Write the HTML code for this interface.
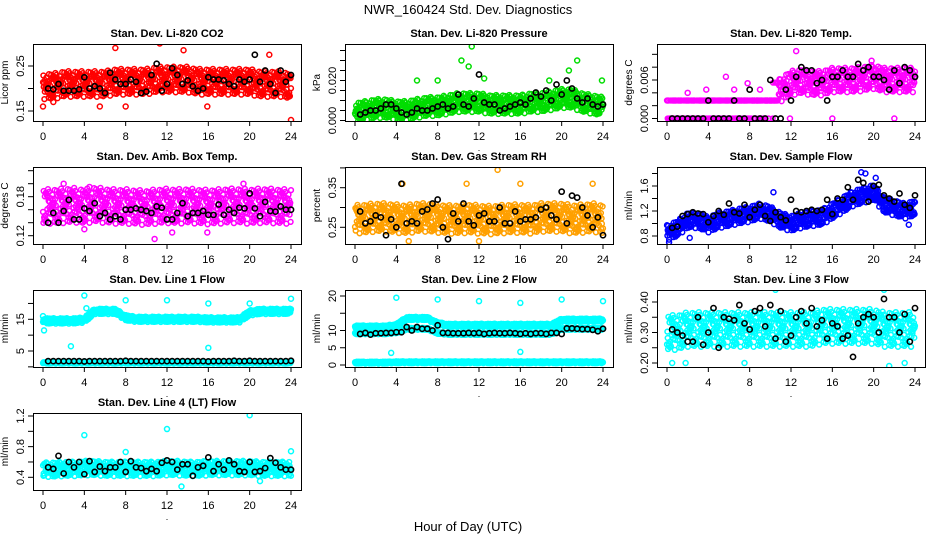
<!DOCTYPE html>
<html><head><meta charset="utf-8"><style>
html,body{margin:0;padding:0;background:#fff}
svg{display:block;font-family:"Liberation Sans",sans-serif}
</style></head><body>
<svg id="c" width="936" height="540" viewBox="0 0 936 540">
<text x="468" y="14" text-anchor="middle" font-size="13">NWR_160424  Std. Dev. Diagnostics</text>
<text x="468" y="531" text-anchor="middle" font-size="13">Hour of Day (UTC)</text>
</svg>
<script>
const hours = [0,4,8,12,16,20,24];
const jitter = [0.3,-0.8,0.9,-0.1,0.5,-0.6,0.1,-0.95,0.7,-0.3,0.0,0.8,-0.5,0.4,-0.2,0.95,-0.7,0.2,-0.4,0.6,-0.9,0.35,-0.05,0.75,-0.65,0.15,-0.35,0.55,-0.85,0.45,-0.15,0.85,-0.45,0.25,-0.75,0.05,0.65];

const co2Center = [0.205,0.205,0.21,0.21,0.21,0.21,0.21,0.215,0.215,0.215,0.215,0.22,0.22,0.22,0.22,0.215,0.215,0.215,0.215,0.215,0.215,0.21,0.21,0.21,0.205];
const co2Black = [0.20,0.198,0.21,0.195,0.195,0.195,0.198,0.225,0.20,0.205,0.20,0.19,0.235,0.22,0.21,0.21,0.22,0.215,0.19,0.193,0.23,0.255,0.195,0.21,0.245,0.23,0.21,0.218,0.205,0.195,0.2,0.225,0.22,0.22,0.218,0.21,0.205,0.22,0.215,0.22,0.275,0.215,0.24,0.21,0.19,0.24,0.215,0.23];
const co2Out = [[0,0.16],[1,0.17],[5.5,0.16],[7,0.29],[8,0.16],[11.3,0.3],[13.6,0.285],[15.9,0.16],[21.9,0.275],[24,0.13]];
const presCenter = [0.004,0.005,0.006,0.006,0.005,0.005,0.006,0.007,0.007,0.008,0.009,0.009,0.009,0.008,0.008,0.008,0.008,0.009,0.009,0.01,0.011,0.011,0.009,0.008,0.007];
const presBlack = [0.003,0.004,0.005,0.005,0.006,0.008,0.008,0.006,0.004,0.003,0.004,0.006,0.005,0.005,0.006,0.007,0.008,0.006,0.007,0.013,0.008,0.007,0.011,0.023,0.009,0.008,0.008,0.005,0.006,0.007,0.008,0.009,0.008,0.011,0.014,0.012,0.015,0.010,0.018,0.013,0.020,0.016,0.011,0.009,0.011,0.008,0.007,0.008];
const presOut = [[11.3,0.037],[10.3,0.03],[11,0.027],[6,0.02],[8,0.02],[12.5,0.021],[18.8,0.02],[21.5,0.03],[20.7,0.025],[23.9,0.02]];
const tempCenter = [0.0012,0.0012,0.0012,0.0013,0.0013,0.0014,0.0015,0.0016,0.0018,0.002,0.0022,0.0045,0.0055,0.0058,0.0055,0.0055,0.006,0.006,0.006,0.0062,0.0065,0.006,0.006,0.006,0.006];
const tempBlack = [0,0,0,0,0,0,0,0.0028,0,0,0,0,0.0028,0,0,0.0045,0,0,0,0.006,0,0,0.0045,0.0028,0.0065,0.008,0.0075,0.0075,0.0055,0.006,0.0028,0.0065,0.0065,0.0075,0.0065,0.0065,0.0085,0.0075,0.008,0.0065,0.0065,0.006,0.0045,0.0075,0.0055,0.008,0.0075,0.0065];
const tempOut = [[12.5,0.0105],[19.8,0.009],[16,0],[22,0],[11.9,0],[5.7,0.0065],[3.8,0.0045],[7.8,0.0055],[2,0.004],[9,0.0045],[6.5,0.0045]];
const ambCenter = [0.165,0.165,0.166,0.167,0.165,0.168,0.166,0.165,0.165,0.164,0.163,0.165,0.166,0.165,0.166,0.165,0.164,0.165,0.166,0.166,0.165,0.166,0.166,0.165,0.165];
const ambBlack = [0.14,0.155,0.14,0.158,0.175,0.145,0.145,0.162,0.158,0.17,0.15,0.155,0.145,0.15,0.145,0.16,0.16,0.162,0.16,0.158,0.155,0.165,0.163,0.145,0.145,0.155,0.17,0.15,0.155,0.155,0.158,0.152,0.152,0.168,0.152,0.16,0.155,0.163,0.162,0.185,0.162,0.15,0.172,0.158,0.157,0.165,0.16,0.16];
const ambOut = [[2,0.2],[4.5,0.195],[10.8,0.115],[19.4,0.2],[12.5,0.125],[15.9,0.125],[4,0.13]];
const rhCenter = [0.27,0.272,0.275,0.275,0.272,0.27,0.275,0.275,0.272,0.27,0.27,0.272,0.27,0.268,0.27,0.272,0.272,0.27,0.275,0.275,0.275,0.27,0.272,0.275,0.27];
const rhBlack = [0.29,0.26,0.265,0.28,0.275,0.23,0.27,0.25,0.36,0.26,0.265,0.26,0.29,0.295,0.31,0.32,0.25,0.22,0.285,0.265,0.31,0.265,0.255,0.28,0.285,0.265,0.265,0.3,0.26,0.26,0.29,0.265,0.27,0.27,0.275,0.295,0.3,0.28,0.27,0.34,0.26,0.33,0.325,0.3,0.28,0.25,0.275,0.23];
const rhOut = [[13.8,0.395],[4.6,0.36],[23,0.36],[5.2,0.215],[12,0.215],[10.8,0.36],[16,0.36]];
const flowCenter = [0.85,0.92,1.05,1.05,0.98,1.05,1.08,1.12,1.15,1.2,1.15,1.05,1.0,1.05,1.08,1.1,1.2,1.3,1.4,1.45,1.5,1.3,1.25,1.2,1.25];
const flowBlack = [0.93,0.95,1.12,1.15,1.18,1.16,1.15,1.02,1.12,1.2,1.14,1.32,1.18,1.16,1.3,1.1,1.22,1.3,1.12,1.04,1.18,1.1,1.05,1.38,1.2,1.18,1.2,1.22,1.2,1.22,1.38,1.15,1.4,1.38,1.58,1.38,1.7,1.65,1.35,1.6,1.62,1.45,1.4,1.35,1.48,1.3,1.25,1.45];
const flowOut = [[0.2,0.7],[2.2,0.77],[10.3,1.5],[18.8,1.82],[19.2,1.8],[20.2,1.73],[23.4,0.98]];
const l1Top = [14.5,14.5,14.5,14.5,14.8,17.5,17.5,17.5,15.5,15,15,15,15,15,15,15,14.8,14.8,14.8,14.8,17,17.5,17.5,17.5,17.5];
const l1Low = [1.3,1.3,1.3,1.3,1.3,1.3,1.3,1.3,1.3,1.3,1.3,1.3,1.3,1.3,1.3,1.3,1.3,1.3,1.3,1.3,1.3,1.3,1.3,1.3,1.3];
const l1Black = [1.8,1.8,1.8,1.8,1.8,1.8,1.8,1.7,1.8,1.8,1.8,1.8,1.8,1.8,1.8,1.9,1.8,1.8,1.8,1.8,1.8,1.8,1.8,1.8,1.8,1.8,1.8,1.8,1.8,1.8,1.8,1.7,1.8,1.8,1.8,1.8,1.9,1.8,1.8,1.9,1.8,1.8,1.8,1.8,1.8,1.8,1.8,1.9];
const l1Out = [[0.1,11.5],[2.7,6.5],[16,6],[4,22.5],[8,21],[12,21],[16,20],[20,20],[24,21.5],[0,16],[4.2,18.5]];
const l2Top = [11,11,11,11,11.5,13.5,13.5,13.5,12,11.5,11.5,11.5,11.5,11.5,11.5,11.5,11.5,11.5,11.5,11.5,13,13,13,13,13];
const l2Mid = [9.2,9.2,9.2,9.2,9.5,10.5,10.5,10.5,9.3,9,9,9,9,9,9,9,9,9,9,9,10.5,10.5,10.5,10.5,10.5];
const l2Low = [0.7,0.7,0.7,0.7,0.8,0.8,0.8,0.8,0.8,0.8,0.8,0.8,0.8,0.8,0.8,0.8,0.8,0.8,0.8,0.8,0.8,0.8,0.8,0.8,0.8];
const l2Black = [9,9.3,8.8,9.2,9.2,9.3,9.3,9.5,9.5,11,10,11,10.5,10.5,10,11.5,9.3,9.3,9.2,9.2,9.2,9.3,9.2,9.3,9,9.2,9.3,9.2,9.2,9.3,9.2,9,9.2,9,9.2,9.2,9,9.3,9.3,9,10.6,10.6,10.5,10.4,10.4,10.2,9.8,10.5];
const l2Out = [[4,19.5],[8,19],[12,18.5],[16,18],[20,19],[24,18.5],[3.5,3.5],[16,3.8]];
const l3Center = [0.3,0.3,0.31,0.31,0.31,0.31,0.31,0.31,0.31,0.31,0.31,0.31,0.31,0.31,0.31,0.32,0.32,0.32,0.32,0.32,0.32,0.31,0.31,0.31,0.31];
const l3Black = [0.31,0.3,0.29,0.27,0.27,0.35,0.26,0.3,0.38,0.25,0.35,0.345,0.34,0.39,0.33,0.31,0.37,0.38,0.32,0.39,0.28,0.37,0.27,0.29,0.35,0.37,0.33,0.38,0.32,0.34,0.28,0.33,0.32,0.28,0.29,0.22,0.33,0.35,0.36,0.35,0.3,0.41,0.35,0.35,0.3,0.36,0.27,0.38];
const l3Out = [[0.5,0.2],[1.8,0.2],[7.5,0.2],[21.5,0.19],[10.5,0.44],[21,0.44],[23,0.2]];
const l4Center = [0.5,0.5,0.51,0.51,0.52,0.52,0.51,0.51,0.51,0.51,0.51,0.51,0.52,0.52,0.51,0.51,0.52,0.52,0.52,0.52,0.52,0.51,0.51,0.51,0.51];
const l4Black = [0.53,0.51,0.68,0.45,0.6,0.53,0.6,0.44,0.61,0.47,0.54,0.48,0.53,0.53,0.6,0.47,0.61,0.53,0.52,0.48,0.51,0.48,0.59,0.62,0.6,0.5,0.57,0.57,0.42,0.53,0.55,0.66,0.48,0.57,0.5,0.62,0.57,0.48,0.47,0.6,0.47,0.48,0.52,0.65,0.59,0.53,0.5,0.5];
const l4Out = [[4,0.95],[12,1.03],[20,1.21],[13.4,0.28],[8,0.73],[24,0.74],[21,0.35]];

const NS='http://www.w3.org/2000/svg';
const svg=document.getElementById('c');
function mk(tag,attrs,parent){const e=document.createElementNS(NS,tag);for(const k in attrs)e.setAttribute(k,attrs[k]);(parent||svg).appendChild(e);return e;}
function interp(arr,t){const i=Math.min(23,Math.floor(t));const f=t-i;return arr[i]*(1-f)+arr[i+1]*f;}

const colLeft=[33,345,657], rowTop=[44,167,290,413], W=268, H=77;
const panels=[
 {name:'li820-co2',title:'Stan. Dev. Li-820 CO2',ylab:'Licor ppm',col:0,row:0,color:'#ff0000',sc:[0.25,66,0.15,111],ticks:[0.15,0.20,0.25],labels:[0.15,0.25],fmt:2,bands:[[co2Center,0.03]],black:[co2Black],out:co2Out},
 {name:'li820-pressure',title:'Stan. Dev. Li-820 Pressure',ylab:'kPa',col:1,row:0,color:'#00dd00',sc:[0,120.5,0.02,80.5],ticks:[0,0.005,0.01,0.015,0.02,0.025,0.03,0.035],labels:[0,0.02],fmt:3,bands:[[presCenter,0.005]],black:[presBlack],out:presOut},
 {name:'li820-temp',title:'Stan. Dev. Li-820 Temp.',ylab:'degrees C',col:2,row:0,color:'#ff00ff',sc:[0,118.5,0.006,80],ticks:[0,0.002,0.004,0.006,0.008,0.01],labels:[0,0.006],fmt:3,bands:[[tempCenter,0.002]],q:0.0028,qUntil:10.8,black:[tempBlack],out:tempOut},
 {name:'amb-box-temp',title:'Stan. Dev. Amb. Box Temp.',ylab:'degrees C',col:0,row:1,color:'#ff00ff',sc:[0.12,235.7,0.18,196.7],ticks:[0.12,0.14,0.16,0.18,0.20,0.22],labels:[0.12,0.18],fmt:2,bands:[[ambCenter,0.028]],black:[ambBlack],out:ambOut},
 {name:'gas-stream-rh',title:'Stan. Dev. Gas Stream RH',ylab:'percent',col:1,row:1,color:'#ffa000',sc:[0.25,227.3,0.35,187.7],ticks:[0.20,0.25,0.30,0.35,0.40],labels:[0.25,0.35],fmt:2,bands:[[rhCenter,0.038]],black:[rhBlack],out:rhOut},
 {name:'sample-flow',title:'Stan. Dev. Sample Flow',ylab:'ml/min',col:2,row:1,color:'#0000ff',sc:[0.8,236,1.6,186],ticks:[0.8,1.0,1.2,1.4,1.6,1.8],labels:[0.8,1.2,1.6],fmt:1,bands:[[flowCenter,0.13]],black:[flowBlack],out:flowOut},
 {name:'line1-flow',title:'Stan. Dev. Line 1 Flow',ylab:'ml/min',col:0,row:2,color:'#00ffff',sc:[5,351,15,319.3],ticks:[0,5,10,15,20],labels:[5,15],fmt:0,bands:[[l1Top,0.9],[l1Low,0.3]],black:[l1Black],out:l1Out},
 {name:'line2-flow',title:'Stan. Dev. Line 2 Flow',ylab:'ml/min',col:1,row:2,color:'#00ffff',sc:[0,365,20,296],ticks:[0,5,10,15,20],labels:[0,5,10,20],fmt:0,bands:[[l2Top,0.5],[l2Mid,0.3],[l2Low,0.3]],black:[l2Black],out:l2Out},
 {name:'line3-flow',title:'Stan. Dev. Line 3 Flow',ylab:'ml/min',col:2,row:2,color:'#00ffff',sc:[0.2,363,0.4,302],ticks:[0.2,0.25,0.3,0.35,0.4],labels:[0.2,0.3,0.4],fmt:2,bands:[[l3Center,0.06]],black:[l3Black],out:l3Out},
 {name:'line4-flow',title:'Stan. Dev. Line 4 (LT) Flow',ylab:'ml/min',col:0,row:3,color:'#00ffff',sc:[0.4,477.3,1.2,416],ticks:[0.4,0.6,0.8,1.0,1.2],labels:[0.4,0.8,1.2],fmt:1,bands:[[l4Center,0.1]],black:[l4Black],out:l4Out}
];

panels.forEach((p,pi)=>{
  const L=colLeft[p.col], T=rowTop[p.row];
  const xs=t=>L+10+t*(248/24);
  const k=(p.sc[3]-p.sc[1])/(p.sc[2]-p.sc[0]);
  const ys=v=>p.sc[1]+(v-p.sc[0])*k;
  const g=mk('g',{});
  
  
  const cid='clip'+pi;
  const cp=mk('clipPath',{id:cid},g); mk('rect',{x:L,y:T,width:W,height:H},cp);
  const pts=mk('g',{'clip-path':'url(#'+cid+')'},g);
  
  
  p.bands.forEach(b=>{
    const N=700;
    for(let i=0;i<N;i++){
      const t=i*24/(N-1);
      let v=interp(b[0],t)+b[1]*jitter[(i*11+pi*3)%jitter.length];
      if(p.q && t<p.qUntil) v=Math.max(0,Math.round(v/p.q)*p.q);
      const c=mk('circle',{cx:xs(t).toFixed(1),cy:ys(v).toFixed(1),r:2.4,fill:'none',stroke:p.color,'stroke-width':1.5},pts);
      
      
    }
  });
  p.out.forEach(o=>{
    const c=mk('circle',{cx:xs(o[0]),cy:ys(o[1]),r:2.5,fill:'none',stroke:p.color,'stroke-width':1.5},pts);
    
    
  });
  p.black.forEach(arr=>arr.forEach((v,i)=>{
    const t=(i+1)*0.5;
    const c=mk('circle',{cx:xs(t),cy:ys(v),r:2.6,fill:'none',stroke:'#000','stroke-width':1.6},pts);
    
    
  }));
  const box=mk('rect',{x:L+0.5,y:T+0.5,width:W,height:H,fill:'none',stroke:'#000','stroke-width':1},g);
  
  
  const tt=mk('text',{x:L+W/2,y:T-7,'text-anchor':'middle','font-size':11,'font-weight':'bold'},g);
  tt.textContent=p.title;
  
  
  hours.forEach(h=>{
    const x=xs(h);
    mk('line',{x1:x,x2:x,y1:T+H,y2:T+H+5,stroke:'#000'},g);
    const tx=mk('text',{x:x,y:T+H+19,'text-anchor':'middle','font-size':11},g);
    tx.textContent=h;
    
    
  });
  const dot=mk('text',{x:L+W/2,y:T+H+30,'text-anchor':'middle','font-size':9},g); dot.textContent='.';
  p.ticks.forEach(v=>{
    const y=ys(v); if(y<T-2||y>T+H+2) return;
    mk('line',{x1:L,x2:L-5,y1:y,y2:y,stroke:'#000'},g);
  });
  p.labels.forEach(v=>{
    const y=ys(v);
    const tx=mk('text',{x:0,y:0,'text-anchor':'middle','font-size':11,transform:'translate('+(L-9)+','+y+') rotate(-90)'},g);
    tx.textContent=v.toFixed(p.fmt);
    
    
  });
  const yl=mk('text',{x:0,y:0,'text-anchor':'middle','font-size':10,transform:'translate('+(L-25)+','+(T+H/2)+') rotate(-90)'},g);
  yl.textContent=p.ylab;
  
  
});
</script>
</body></html>
